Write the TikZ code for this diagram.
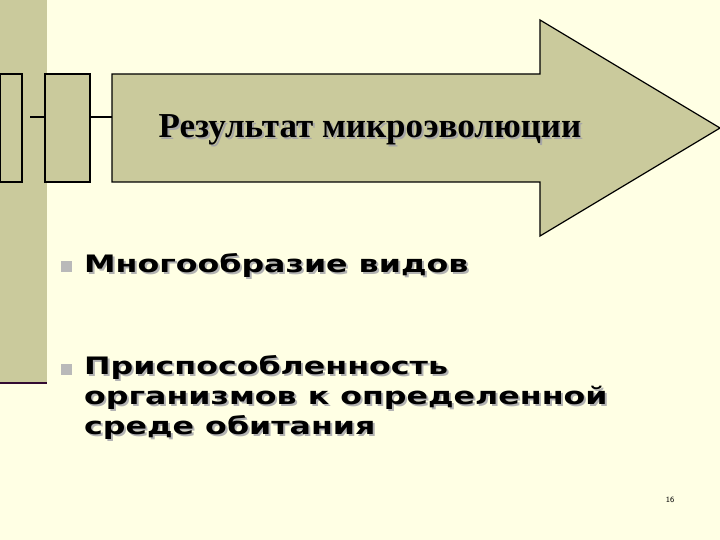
\documentclass[tikz,border=0pt]{standalone}
\usepackage{fontspec}
\setmainfont{Liberation Serif}
\newfontfamily\blk{DejaVu Sans}
\newcommand{\widetxt}[1]{\scalebox{1.32}[1]{#1}}
\begin{document}
\begin{tikzpicture}[x=1pt,y=-1pt,
  box/.style={draw=black,line width=1.2pt,fill=olive0},
  bul/.style={fill=gray!55,minimum size=11pt,inner sep=0pt},
  itemtxt/.style={anchor=north west,align=left,font=\blk\bfseries\fontsize{24}{30}\selectfont,inner sep=0pt}]
\definecolor{olive0}{HTML}{CACA9C}
\definecolor{bg}{HTML}{FFFFE4}
\useasboundingbox (0,0) rectangle (720,540);
\fill[bg] (0,0) rectangle (720,540);
\fill[olive0] (0,0) rectangle (47,382);
\draw[line width=2pt,color={rgb,255:red,50;green,10;blue,50}] (0,383) -- (47,383);
\node[box,minimum width=22pt,minimum height=108pt,inner sep=0pt] (b1) at (11,128) {};
\node[box,minimum width=45pt,minimum height=108pt,inner sep=0pt] (b2) at (67.5,128) {};
\coordinate (c1) at (30,117);
\draw[line width=1.2pt] (c1) -- (b2.west |- c1);
\draw[line width=1.2pt] (b2.east |- c1) -- (112,117);
\draw[box] (112,74) -- (540,74) -- (540,20) -- (720,128) -- (540,236) -- (540,182) -- (112,182) -- cycle;
\node[font=\bfseries\fontsize{35}{40}\selectfont,text=gray!70] at (372,132) {Результат микроэволюции};
\node[font=\bfseries\fontsize{35}{40}\selectfont] (t) at (370,130) {Результат микроэволюции};
\node[bul] (u1) at (66,266) {};
\node[itemtxt,text=gray!60] at (86,255) {\widetxt{Многообразие видов}};
\node[itemtxt] (i1) at (84,253) {\widetxt{Многообразие видов}};
\node[bul] (u2) at (66,369) {};
\node[itemtxt,text=gray!60] at (86,357) {\widetxt{Приспособленность}\\\widetxt{организмов к определенной}\\\widetxt{среде обитания}};
\node[itemtxt] (i2) at (84,355) {\widetxt{Приспособленность}\\\widetxt{организмов к определенной}\\\widetxt{среде обитания}};
\node[font=\sffamily\fontsize{8}{9}\selectfont] (pg) at (670,500) {16};
\end{tikzpicture}
\end{document}
